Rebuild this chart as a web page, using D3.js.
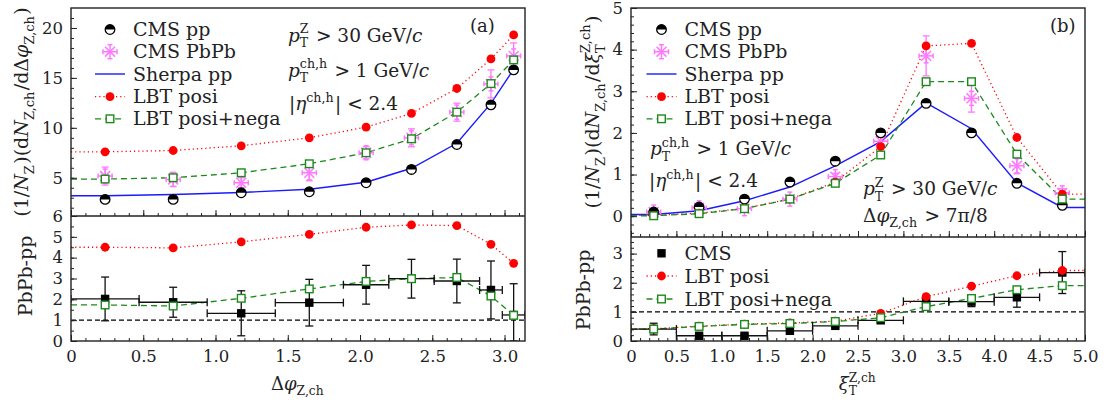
<!DOCTYPE html>
<html><head><meta charset="utf-8">
<script src="https://cdn.jsdelivr.net/npm/d3@7"></script>
<style>
body{margin:0;background:#fff}
text{font-family:"DejaVu Serif",serif;fill:#222;white-space:pre}
</style></head>
<body><svg id="c" width="1104" height="403"></svg>
<script>
// ---------- data ----------
const PI = Math.PI;
const phiCenters = [0.236, 0.707, 1.178, 1.649, 2.042, 2.356, 2.670, 2.906, 3.063];
const phiEdges = [0, 0.15*PI, 0.3*PI, 0.45*PI, 0.6*PI, 0.7*PI, 0.8*PI, 0.9*PI, 0.95*PI, PI];
const cmsPPphi = [2.83, 2.83, 3.5, 3.6, 4.5, 5.83, 8.33, 12.3, 15.8];
const sherpaPhi = [3.2, 3.33, 3.53, 3.85, 4.55, 5.95, 8.45, 12.45, 15.85];
const cmsPbPbPhi = [5.17, 4.83, 4.5, 5.5, 7.5, 9.0, 11.57, 14.4, 17.2];
const cmsPbPbPhiErr = [0.9, 0.7, 0.5, 0.8, 0.6, 0.9, 0.9, 1.4, 1.3];
const lbtPosiPhi = [7.6, 7.73, 8.2, 9.0, 10.07, 11.44, 13.94, 16.9, 19.3];
const lbtPNPhi = [4.87, 5.0, 5.5, 6.4, 7.5, 8.9, 11.57, 14.43, 16.8];

const diffPhiCMS = [2.02, 1.86, 1.33, 1.84, 2.7, 2.99, 2.88, 2.45, 1.25];
const diffPhiErr = [1.05, 0.72, 1.08, 1.12, 0.93, 0.93, 1.05, 1.39, 1.5];
const diffPhiLbtPosi = [4.5, 4.47, 4.76, 5.12, 5.46, 5.57, 5.54, 4.64, 3.73];
const diffPhiLbtPN = [1.73, 1.68, 2.05, 2.5, 2.86, 2.99, 3.05, 2.16, 1.23];

const xiCenters = [0.25, 0.75, 1.25, 1.75, 2.25, 2.75, 3.25, 3.75, 4.25, 4.75];
const xiEdges = [0, 0.5, 1.0, 1.5, 2.0, 2.5, 3.0, 3.5, 4.0, 4.5, 5.0];
const cmsPPxi = [0.1, 0.22, 0.41, 0.82, 1.32, 2.0, 2.71, 2.0, 0.79, 0.26];
const sherpaXi = [0.04, 0.13, 0.37, 0.7, 1.21, 1.79, 2.72, 2.1, 0.8, 0.21];
const cmsPbPbXi = [0.1, 0.2, 0.18, 0.41, 0.95, 1.8, 3.85, 2.83, 1.21, 0.56];
const cmsPbPbXiErr = [0.05, 0.05, 0.05, 0.06, 0.08, 0.15, 0.48, 0.33, 0.19, 0.1];
const lbtPosiXi = [0.02, 0.07, 0.19, 0.41, 0.82, 1.67, 4.09, 4.15, 1.89, 0.53];
const lbtPNXi = [0.01, 0.06, 0.18, 0.41, 0.79, 1.47, 3.23, 3.23, 1.49, 0.41];

const diffXiCMS = [0.41, 0.18, 0.18, 0.35, 0.52, 0.71, 1.36, 1.35, 1.5, 2.35];
const diffXiErr = [0.2, 0.05, 0.05, 0.06, 0.06, 0.06, 0.08, 0.17, 0.34, 0.72];
const diffXiLbtPosi = [0.42, 0.51, 0.58, 0.62, 0.68, 0.95, 1.52, 1.88, 2.24, 2.42];
const diffXiLbtPN = [0.41, 0.5, 0.57, 0.6, 0.67, 0.8, 1.18, 1.46, 1.76, 1.9];

const phiTicks = [0, 0.5, 1.0, 1.5, 2.0, 2.5, 3.0];
const xiTicks = [0, 0.5, 1.0, 1.5, 2.0, 2.5, 3.0, 3.5, 4.0, 4.5, 5.0];
const ltTicks = [5, 10, 15, 20];
const lbTicks = [0, 1, 2, 3, 4, 5, 6];
const rtTicks = [0, 1, 2, 3, 4, 5];
const rbTicks = [0, 1, 2, 3];
const legendTop = ["CMS pp", "CMS PbPb", "Sherpa pp", "LBT posi", "LBT posi+nega"];
const legendBottom = ["CMS", "LBT posi", "LBT posi+nega"];

// ---------- setup ----------
const svg = d3.select('#c');
const RED = '#ff0000', GREEN = '#1b8a1b', BLUE = '#1a1aff', PINK = '#ff77ff';

const xL = d3.scaleLinear([0, PI], [71, 525]);
const yLT = d3.scaleLinear([1.17, 22], [216, 8]);
const yLB = d3.scaleLinear([0, 6], [341, 216]);
const xR = d3.scaleLinear([0, 5], [631, 1085]);
const yRT = d3.scaleLinear([-0.5, 5], [237, 8]);
const yRB = d3.scaleLinear([0, 3.57], [341, 237]);

const TF = 16.5;

function rich(parent, x, y, parts, size, anchor, rotate) {
  const g = parent.append('g');
  let cx = 0;
  parts.forEach(p => {
    if (p.t !== undefined) {
      const t = g.append('text').attr('x', cx).attr('y', 0)
        .style('font-size', size + 'px').style('font-style', p.i ? 'italic' : 'normal').text(p.t);
      cx += t.node().getComputedTextLength();
    } else {
      let w = 0;
      if (p.sub) {
        const t = g.append('text').attr('x', cx).attr('y', size * 0.3)
          .style('font-size', (size * 0.68) + 'px').text(p.sub);
        w = Math.max(w, t.node().getComputedTextLength());
      }
      if (p.sup) {
        const t = g.append('text').attr('x', cx).attr('y', -size * 0.45)
          .style('font-size', (size * 0.68) + 'px').text(p.sup);
        w = Math.max(w, t.node().getComputedTextLength());
      }
      cx += w + 1.5;
    }
  });
  const off = anchor === 'middle' ? -cx / 2 : anchor === 'end' ? -cx : 0;
  g.attr('transform', `translate(${x},${y})${rotate ? ' rotate(-90)' : ''} translate(${off},0)`);
  return g;
}

function styleAxis(g) {
  g.select('.domain').remove();
  g.selectAll('line').attr('stroke', '#222').attr('stroke-width', 1);
  g.selectAll('text').style('font-family', '"DejaVu Serif",serif').style('font-size', TF + 'px').attr('fill', '#222');
}

function xAxis(scale, y, majors, minors, fmt) {
  const g1 = svg.append('g').attr('transform', `translate(0,${y})`)
    .call(d3.axisBottom(scale).tickValues(majors).tickSize(-6).tickSizeOuter(0).tickPadding(9)
      .tickFormat(fmt || (() => '')));
  styleAxis(g1);
  const g2 = svg.append('g').attr('transform', `translate(0,${y})`)
    .call(d3.axisBottom(scale).tickValues(minors).tickSize(-3).tickSizeOuter(0).tickFormat(() => ''));
  styleAxis(g2);
}
function yAxis(scale, x, majors, minors, fmt) {
  const g1 = svg.append('g').attr('transform', `translate(${x},0)`)
    .call(d3.axisLeft(scale).tickValues(majors).tickSize(-6).tickSizeOuter(0).tickPadding(8).tickFormat(fmt));
  styleAxis(g1);
  const g2 = svg.append('g').attr('transform', `translate(${x},0)`)
    .call(d3.axisLeft(scale).tickValues(minors).tickSize(-3).tickSizeOuter(0).tickFormat(() => ''));
  styleAxis(g2);
}
const fmtX = d => d === 0 ? '0' : d3.format('.1f')(d);
const fmtI = d => String(d);

// markers
function halfCircle(g, x, y, r) {
  g.append('circle').attr('cx', x).attr('cy', y).attr('r', r).attr('fill', '#fff').attr('stroke', '#000').attr('stroke-width', 1.3);
  g.append('path').attr('d', `M${x - r},${y}A${r},${r} 0 0 1 ${x + r},${y}Z`).attr('fill', '#000');
}
function star(g, x, y, s) {
  const gg = g.append('g').attr('stroke', PINK).attr('stroke-width', 1.5).attr('fill', 'none');
  [0, 45, 90, 135].forEach(a => {
    const r = a * PI / 180, dx = Math.cos(r) * s, dy = Math.sin(r) * s;
    gg.append('line').attr('x1', x - dx).attr('y1', y - dy).attr('x2', x + dx).attr('y2', y + dy);
  });
  [0, 90, 180, 270].forEach(a => {
    const r = a * PI / 180, ex = x + Math.cos(r) * s, ey = y + Math.sin(r) * s;
    const px = -Math.sin(r) * s * 0.35, py = Math.cos(r) * s * 0.35;
    gg.append('line').attr('x1', ex - px).attr('y1', ey - py).attr('x2', ex + px).attr('y2', ey + py);
  });
}
function redDot(g, x, y) { g.append('circle').attr('cx', x).attr('cy', y).attr('r', 4.4).attr('fill', RED); }
function greenSq(g, x, y) { g.append('rect').attr('x', x - 3.8).attr('y', y - 3.8).attr('width', 7.6).attr('height', 7.6).attr('fill', '#fff').attr('stroke', GREEN).attr('stroke-width', 1.4); }
function blackSq(g, x, y) { g.append('rect').attr('x', x - 4.2).attr('y', y - 4.2).attr('width', 8.4).attr('height', 8.4).attr('fill', '#000'); }

function linePath(g, xs, ys, xScale, yScale, color, dash, width, x0, x1) {
  const pts = xs.map((x, i) => [x, ys[i]]);
  if (x0 !== undefined) pts.unshift([x0, ys[0]]);
  if (x1 !== undefined) pts.push([x1, ys[ys.length - 1]]);
  g.append('path').attr('d', d3.line().x(d => xScale(d[0])).y(d => yScale(d[1]))(pts))
    .attr('fill', 'none').attr('stroke', color).attr('stroke-width', width).attr('stroke-dasharray', dash);
}
function vErr(g, x, y0, y1, color, cap) {
  g.append('line').attr('x1', x).attr('x2', x).attr('y1', y0).attr('y2', y1).attr('stroke', color).attr('stroke-width', 1.3);
  [y0, y1].forEach(y => g.append('line').attr('x1', x - cap).attr('x2', x + cap).attr('y1', y).attr('y2', y).attr('stroke', color).attr('stroke-width', 1.3));
}
function hErr(g, x0, x1, y, color, cap) {
  g.append('line').attr('x1', x0).attr('x2', x1).attr('y1', y).attr('y2', y).attr('stroke', color).attr('stroke-width', 1.3);
  [x0, x1].forEach(x => g.append('line').attr('x1', x).attr('x2', x).attr('y1', y - cap).attr('y2', y + cap).attr('stroke', color).attr('stroke-width', 1.3));
}
function clip(id, x0, y0, x1, y1) {
  svg.append('clipPath').attr('id', id).append('rect').attr('x', x0).attr('y', y0).attr('width', x1 - x0).attr('height', y1 - y0);
  return svg.append('g').attr('clip-path', `url(#${id})`);
}

// ================= LEFT TOP =================
{
  const g = clip('clt', 71, 8, 525, 216);
  linePath(g, phiCenters, sherpaPhi, xL, yLT, BLUE, null, 1.4, 0);
  linePath(g, phiCenters, lbtPosiPhi, xL, yLT, RED, '1.2,3', 1.3, 0);
  linePath(g, phiCenters, lbtPNPhi, xL, yLT, GREEN, '6,4', 1.3, 0);
  phiCenters.forEach((c, i) => {
    const x = xL(c);
    vErr(g, x, yLT(cmsPbPbPhi[i] + cmsPbPbPhiErr[i]), yLT(cmsPbPbPhi[i] - cmsPbPbPhiErr[i]), PINK, 3.5);
    star(g, x, yLT(cmsPbPbPhi[i]), 7);
  });
  phiCenters.forEach((c, i) => halfCircle(g, xL(c), yLT(cmsPPphi[i]), 4.8));
  phiCenters.forEach((c, i) => redDot(g, xL(c), yLT(lbtPosiPhi[i])));
  phiCenters.forEach((c, i) => greenSq(g, xL(c), yLT(lbtPNPhi[i])));
}
// ================= LEFT BOTTOM =================
{
  const g = clip('clb', 71, 216, 525, 341);
  g.append('line').attr('x1', xL(0)).attr('x2', xL(PI)).attr('y1', yLB(1)).attr('y2', yLB(1))
    .attr('stroke', '#000').attr('stroke-width', 1.1).attr('stroke-dasharray', '5,3');
  linePath(g, phiCenters, diffPhiLbtPosi, xL, yLB, RED, '1.2,3', 1.3, 0);
  linePath(g, phiCenters, diffPhiLbtPN, xL, yLB, GREEN, '6,4', 1.3, 0);
  phiCenters.forEach((c, i) => {
    const y = yLB(diffPhiCMS[i]);
    hErr(g, xL(phiEdges[i]), xL(phiEdges[i + 1]), y, '#111', 4);
    vErr(g, xL(c), yLB(diffPhiCMS[i] + diffPhiErr[i]), yLB(Math.max(0, diffPhiCMS[i] - diffPhiErr[i])), '#111', 4);
    blackSq(g, xL(c), y);
  });
  phiCenters.forEach((c, i) => redDot(g, xL(c), yLB(diffPhiLbtPosi[i])));
  phiCenters.forEach((c, i) => greenSq(g, xL(c), yLB(diffPhiLbtPN[i])));
}
// ================= RIGHT TOP =================
{
  const g = clip('crt', 631, 8, 1085, 237);
  linePath(g, xiCenters, sherpaXi, xR, yRT, BLUE, null, 1.4, 0, 5);
  linePath(g, xiCenters, lbtPosiXi, xR, yRT, RED, '1.2,3', 1.3, 0, 5);
  linePath(g, xiCenters, lbtPNXi, xR, yRT, GREEN, '6,4', 1.3, 0, 5);
  xiCenters.forEach((c, i) => {
    const x = xR(c);
    vErr(g, x, yRT(cmsPbPbXi[i] + cmsPbPbXiErr[i]), yRT(cmsPbPbXi[i] - cmsPbPbXiErr[i]), PINK, 3.5);
    star(g, x, yRT(cmsPbPbXi[i]), 7);
  });
  xiCenters.forEach((c, i) => halfCircle(g, xR(c), yRT(cmsPPxi[i]), 4.8));
  xiCenters.forEach((c, i) => redDot(g, xR(c), yRT(lbtPosiXi[i])));
  xiCenters.forEach((c, i) => greenSq(g, xR(c), yRT(lbtPNXi[i])));
}
// ================= RIGHT BOTTOM =================
{
  const g = clip('crb', 631, 237, 1085, 341);
  g.append('line').attr('x1', xR(0)).attr('x2', xR(5)).attr('y1', yRB(1)).attr('y2', yRB(1))
    .attr('stroke', '#000').attr('stroke-width', 1.1).attr('stroke-dasharray', '5,3');
  linePath(g, xiCenters, diffXiLbtPosi, xR, yRB, RED, '1.2,3', 1.3, 0, 5);
  linePath(g, xiCenters, diffXiLbtPN, xR, yRB, GREEN, '6,4', 1.3, 0, 5);
  xiCenters.forEach((c, i) => {
    const y = yRB(diffXiCMS[i]);
    hErr(g, xR(xiEdges[i]), xR(xiEdges[i + 1]), y, '#111', 4);
    vErr(g, xR(c), yRB(diffXiCMS[i] + diffXiErr[i]), yRB(diffXiCMS[i] - diffXiErr[i]), '#111', 4);
    blackSq(g, xR(c), y);
  });
  xiCenters.forEach((c, i) => redDot(g, xR(c), yRB(diffXiLbtPosi[i])));
  xiCenters.forEach((c, i) => greenSq(g, xR(c), yRB(diffXiLbtPN[i])));
}

// ================= AXES & FRAMES =================
const phiMinor = d3.range(0, 3.15, 0.1);
const xiMinor = d3.range(0, 5.01, 0.1);
xAxis(xL, 341, phiTicks, phiMinor, fmtX);
xAxis(xL, 216, phiTicks, phiMinor, null);
xAxis(xR, 341, xiTicks, xiMinor, fmtX);
xAxis(xR, 237, xiTicks, xiMinor, null);
yAxis(yLT, 71, ltTicks, d3.range(2, 22, 1), fmtI);
yAxis(yLB, 71, lbTicks, d3.range(0, 6.01, 0.5), fmtI);
yAxis(yRT, 631, rtTicks, d3.range(-0.4, 5.0, 0.2), fmtI);
yAxis(yRB, 631, rbTicks, d3.range(0, 3.5, 0.2), fmtI);

[[71, 8, 525, 341], [631, 8, 1085, 341]].forEach(([x0, y0, x1, y1]) =>
  svg.append('rect').attr('x', x0).attr('y', y0).attr('width', x1 - x0).attr('height', y1 - y0)
    .attr('fill', 'none').attr('stroke', '#222').attr('stroke-width', 1.4));
svg.append('line').attr('x1', 71).attr('x2', 525).attr('y1', 216).attr('y2', 216).attr('stroke', '#222').attr('stroke-width', 1.4);
svg.append('line').attr('x1', 631).attr('x2', 1085).attr('y1', 237).attr('y2', 237).attr('stroke', '#222').attr('stroke-width', 1.4);

// ================= LEGENDS =================
const LF = 19;
function legendEntry(kind, x, y, label) {
  const g = svg.append('g');
  const mx = x, lx0 = x - 15, lx1 = x + 15;
  if (kind === 'pp') halfCircle(g, mx, y, 4.8);
  if (kind === 'pbpb') star(g, mx, y, 7);
  if (kind === 'sherpa') g.append('line').attr('x1', lx0).attr('x2', lx1).attr('y1', y).attr('y2', y).attr('stroke', BLUE).attr('stroke-width', 1.4);
  if (kind === 'red') { g.append('line').attr('x1', lx0).attr('x2', lx1).attr('y1', y).attr('y2', y).attr('stroke', RED).attr('stroke-width', 1.3).attr('stroke-dasharray', '1.2,3'); redDot(g, mx, y); }
  if (kind === 'green') { g.append('line').attr('x1', lx0).attr('x2', lx1).attr('y1', y).attr('y2', y).attr('stroke', GREEN).attr('stroke-width', 1.3).attr('stroke-dasharray', '6,4'); greenSq(g, mx, y); }
  if (kind === 'cms') blackSq(g, mx, y);
  g.append('text').attr('x', x + 23).attr('y', y + 6.5).style('font-size', LF + 'px').text(label);
}
const kindsTop = ['pp', 'pbpb', 'sherpa', 'red', 'green'];
const topY = [29.5, 51.7, 74, 96.7, 118.8];
legendTop.forEach((l, i) => legendEntry(kindsTop[i], 110, topY[i], l));
legendTop.forEach((l, i) => legendEntry(kindsTop[i], 661.5, topY[i], l));
const kindsBot = ['cms', 'red', 'green'];
const botY = [253.3, 276, 299];
legendBottom.forEach((l, i) => legendEntry(kindsBot[i], 661.5, botY[i], l));

// ================= ANNOTATIONS =================
const AF = 18.5;
const pTZ = [{t: 'p', i: true}, {sub: 'T', sup: 'Z'}, {t: ' > 30 GeV/'}, {t: 'c', i: true}];
const pTch = [{t: 'p', i: true}, {sub: 'T', sup: 'ch,h'}, {t: ' > 1 GeV/'}, {t: 'c', i: true}];
const etaT = [{t: '|'}, {t: 'η', i: true}, {sup: 'ch,h'}, {t: '| < 2.4'}];
const dphiCut = [{t: 'Δ'}, {t: 'φ', i: true}, {sub: 'Z,ch'}, {t: ' > 7π/8'}];
rich(svg, 288, 41.5, pTZ, AF);
rich(svg, 288, 76.5, pTch, AF);
rich(svg, 289, 110, etaT, AF);
svg.append('text').attr('x', 470).attr('y', 32).style('font-size', '18px').text('(a)');
rich(svg, 650, 155, pTch, AF);
rich(svg, 649, 187, etaT, AF);
rich(svg, 863, 195, pTZ, AF);
rich(svg, 863, 221.5, dphiCut, AF);
svg.append('text').attr('x', 1050).attr('y', 32).style('font-size', '18px').text('(b)');

// ================= AXIS TITLES =================
const YF = 19;
rich(svg, 298, 390, [{t: 'Δ'}, {t: 'φ', i: true}, {sub: 'Z,ch'}], 18, 'middle');
rich(svg, 858, 390, [{t: 'ξ', i: true}, {sub: 'T', sup: 'Z,ch'}], 18, 'middle');
rich(svg, 28, 112, [{t: '(1/'}, {t: 'N', i: true}, {sub: 'Z'}, {t: ')(d'}, {t: 'N', i: true}, {sub: 'Z,ch'}, {t: '/dΔ'}, {t: 'φ', i: true}, {sub: 'Z,ch'}, {t: ')'}], YF, 'middle', true);
rich(svg, 32, 276, [{t: 'PbPb-pp'}], YF, 'middle', true);
rich(svg, 599, 112, [{t: '(1/'}, {t: 'N', i: true}, {sub: 'Z'}, {t: ')(d'}, {t: 'N', i: true}, {sub: 'Z,ch'}, {t: '/d'}, {t: 'ξ', i: true}, {sub: 'T', sup: 'Z,ch'}, {t: ')'}], YF, 'middle', true);
rich(svg, 590, 290, [{t: 'PbPb-pp'}], YF, 'middle', true);
</script></body></html>
